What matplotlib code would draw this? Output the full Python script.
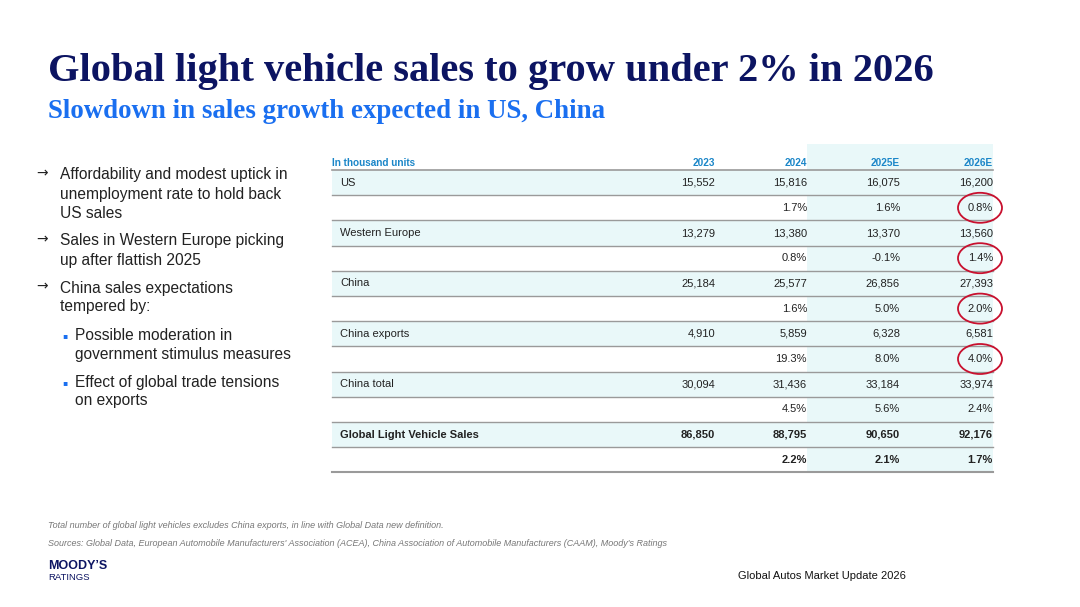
import matplotlib.pyplot as plt
from matplotlib.patches import Rectangle, Ellipse

# table data
years = ["2023", "2024", "2025E", "2026E"]
rows = ["US", "Western Europe", "China", "China exports", "China total",
        "Global Light Vehicle Sales"]
units = [
    [15552, 15816, 16075, 16200],
    [13279, 13380, 13370, 13560],
    [25184, 25577, 26856, 27393],
    [4910, 5859, 6328, 6581],
    [30094, 31436, 33184, 33974],
    [86850, 88795, 90650, 92176],
]
growth = [
    [None, 1.7, 1.6, 0.8],
    [None, 0.8, -0.1, 1.4],
    [None, 1.6, 5.0, 2.0],
    [None, 19.3, 8.0, 4.0],
    [None, 4.5, 5.6, 2.4],
    [None, 2.2, 2.1, 1.7],
]
circled = [0, 1, 2, 3]   # rows whose 2026E growth is circled

bullets = [
    (0, "Affordability and modest uptick in\nunemployment rate to hold back\nUS sales"),
    (0, "Sales in Western Europe picking\nup after flattish 2025"),
    (0, "China sales expectations\ntempered by:"),
    (1, "Possible moderation in\ngovernment stimulus measures"),
    (1, "Effect of global trade tensions\non exports"),
]

navy = "#0c1462"
blue = "#1a6ff0"
hdr_blue = "#1b86c8"
shade = "#e9f8f9"
grid = "#9a9a9a"
txt = "#222222"
sans = "Liberation Sans"
serif = "Liberation Serif"

fig = plt.figure(figsize=(10.8, 6.07), dpi=100)
ax = fig.add_axes([0, 0, 1, 1])
ax.set_xlim(0, 1080)
ax.set_ylim(607, 0)
ax.axis("off")

# titles
ax.text(48, 71, "Global light vehicle sales to grow under 2% in 2026", family=serif,
        fontweight="bold", fontsize=29.2, color=navy, va="center")
ax.text(48, 112, "Slowdown in sales growth expected in US, China", family=serif,
        fontweight="bold", fontsize=19.4, color=blue, va="center")

# bullets
y = 175
for level, text in bullets:
    lines = text.split("\n")
    if level == 0:
        ax.text(36, y - 2, "\u2192", family="DejaVu Sans", fontsize=10, color=txt, va="center")
        x0 = 60
    else:
        ax.text(62, y + 1, "\u25aa", family="DejaVu Sans", fontsize=5.5, color=blue, va="center")
        x0 = 75
    for i, line in enumerate(lines):
        ax.text(x0, y + i * 19, line, family=sans, fontsize=11.2, color=txt, va="center")
    y += len(lines) * 19 + 9

# table geometry
left, right = 332, 993
col_right = [715, 807, 900, 993]
top = 170
rh = 25.2
nrows = len(rows) * 2

# shading: forecast columns and label rows
ax.add_patch(Rectangle((col_right[1], 144), right - col_right[1], top + nrows * rh - 144,
                       facecolor=shade, edgecolor="none", zorder=0))
for r in range(len(rows)):
    ax.add_patch(Rectangle((left, top + 2 * r * rh), right - left, rh,
                           facecolor=shade, edgecolor="none", zorder=0))

# header
ax.text(left, 163, "In thousand units", family=sans, fontsize=7.2, fontweight="bold",
        color=hdr_blue, va="center")
for c, yr in enumerate(years):
    ax.text(col_right[c], 163, yr, family=sans, fontsize=7.2, fontweight="bold",
            color=hdr_blue, va="center", ha="right")

ax.plot([left, right], [top, top], color=grid, lw=1.2, zorder=2)
for k in range(1, nrows + 1):
    yy = top + k * rh
    ax.plot([left, right], [yy, yy], color=grid, lw=1.0 if k < nrows else 1.5, zorder=2)

for r, name in enumerate(rows):
    bold = "bold" if r == len(rows) - 1 else "normal"
    yv = top + 2 * r * rh + rh / 2
    yg = yv + rh
    ax.text(340, yv, name, family=sans, fontsize=8, fontweight=bold, color=txt, va="center")
    for c in range(len(years)):
        ax.text(col_right[c], yv, f"{units[r][c]:,}", family=sans, fontsize=8,
                fontweight=bold, color=txt, va="center", ha="right")
        g = growth[r][c]
        if g is not None:
            ax.text(col_right[c], yg, f"{g:.1f}%", family=sans, fontsize=8,
                    fontweight=bold, color=txt, va="center", ha="right")
    if r in circled:
        ax.add_patch(Ellipse((980, yg), 44, 30, facecolor="none", edgecolor="#c8102e",
                             lw=1.3, zorder=3))

# footer
ax.text(48, 526, "Total number of global light vehicles excludes China exports, in line with Global Data new definition.",
        family=sans, fontsize=6.5, style="italic", color="#777777", va="center")
ax.text(48, 544, "Sources: Global Data, European Automobile Manufacturers' Association (ACEA), China Association of Automobile Manufacturers (CAAM), Moody's Ratings",
        family=sans, fontsize=6.5, style="italic", color="#777777", va="center")
ax.text(48, 566, "MOODY\u2019S", family=sans, fontsize=9, fontweight="bold", color=navy, va="center")
ax.text(48, 577, "RATINGS", family=sans, fontsize=6.8, color=navy, va="center")
ax.text(738, 576, "Global Autos Market Update 2026", family=sans, fontsize=8, color="#111111",
        va="center")

fig.savefig("out.png", dpi=100, facecolor="white")
